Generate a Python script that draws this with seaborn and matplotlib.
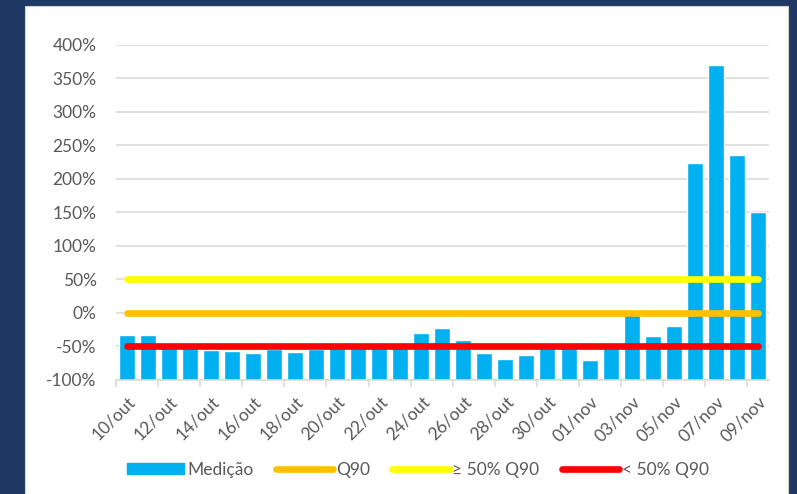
import matplotlib
matplotlib.use("Agg")
import matplotlib.pyplot as plt
import seaborn as sns
import pandas as pd
from matplotlib.lines import Line2D
from matplotlib.patches import Patch, Rectangle

# dados
datas = ["10/out", "11/out", "12/out", "13/out", "14/out", "15/out", "16/out",
         "17/out", "18/out", "19/out", "20/out", "21/out", "22/out", "23/out",
         "24/out", "25/out", "26/out", "27/out", "28/out", "29/out", "30/out",
         "31/out", "01/nov", "02/nov", "03/nov", "04/nov", "05/nov", "06/nov",
         "07/nov", "08/nov", "09/nov"]
medicao = [-33, -33, -52, -53, -56, -58, -61, -54, -59, -55, -52, -52, -52, -52,
           -30, -23, -41, -60, -69, -63, -52, -52, -71, -52, -2, -35, -20,
           224, 370, 236, 150]
q90 = 0
acima_50 = 50
abaixo_50 = -50
base = -100

azul = "#00B0F0"
laranja = "#FFC000"
amarelo = "#FFFF00"
vermelho = "#FF0000"
cinza = "#595959"
grade = "#D9D9D9"

sns.set_theme(style="white")
plt.rcParams["font.family"] = ["Lato", "DejaVu Sans"]

fig = plt.figure(figsize=(7.97, 4.94), dpi=100)
fig.patch.set_facecolor("#1F3864")
fig.patches.append(Rectangle((25 / 797, 0), 763 / 797, 1 - 6 / 494,
                             transform=fig.transFigure, facecolor="white",
                             edgecolor="#D0D0D0", lw=0.8, zorder=-10))

ax = fig.add_axes([116 / 797, 1 - 379.5 / 494, 652.5 / 797, 334.5 / 494])
ax.set_facecolor("white")

df = pd.DataFrame({"data": datas, "altura": [v - base for v in medicao]})
sns.barplot(data=df, x="data", y="altura", bottom=base, color=azul,
            saturation=1, width=0.76, ax=ax, zorder=2)

n = len(datas)
for valor, cor in [(q90, laranja), (acima_50, amarelo), (abaixo_50, vermelho)]:
    sns.lineplot(x=[0, n - 1], y=[valor, valor], color=cor, lw=4.8,
                 solid_capstyle="round", ax=ax, zorder=3)

ax.set_xlim(-0.5, n - 0.5)
ax.set_ylim(-100, 400)
ax.set_yticks(range(-100, 401, 50))
ax.set_yticklabels([f"{t}%" for t in range(-100, 401, 50)])
ax.yaxis.grid(True, color=grade, lw=1.1, zorder=0)
ax.set_axisbelow(True)

ax.set_xticks(range(0, n, 2))
ax.set_xticklabels(datas[::2], rotation=45, ha="right", rotation_mode="anchor")
ax.set_xticks([i - 0.5 for i in range(0, n, 2)], minor=True)
ax.tick_params(axis="x", which="major", length=0, pad=10, labelsize=12.5, colors=cinza)
ax.tick_params(axis="x", which="minor", length=5, width=1.1, color=grade, bottom=True)
ax.tick_params(axis="y", length=0, pad=14, labelsize=12.5, colors=cinza)
ax.set_xlabel("")
ax.set_ylabel("")

for lado in ["top", "right", "left"]:
    ax.spines[lado].set_visible(False)
ax.spines["bottom"].set_color(grade)
ax.spines["bottom"].set_linewidth(1.1)

handles = [
    Patch(facecolor=azul, edgecolor=azul),
    Line2D([], [], color=laranja, lw=4.8, solid_capstyle="round"),
    Line2D([], [], color=amarelo, lw=4.8, solid_capstyle="round"),
    Line2D([], [], color=vermelho, lw=4.8, solid_capstyle="round"),
]
rotulos = ["Medição", "Q90", "≥ 50% Q90", "< 50% Q90"]
leg = fig.legend(handles, rotulos, loc="center", bbox_to_anchor=(418 / 797, 1 - 470 / 494),
                 ncol=4, frameon=False, handlelength=3.3, handleheight=0.6,
                 handletextpad=0.15, columnspacing=1.3, fontsize=12.5)
for t in leg.get_texts():
    t.set_color(cinza)

fig.savefig("out.png", dpi=100, facecolor=fig.get_facecolor())
